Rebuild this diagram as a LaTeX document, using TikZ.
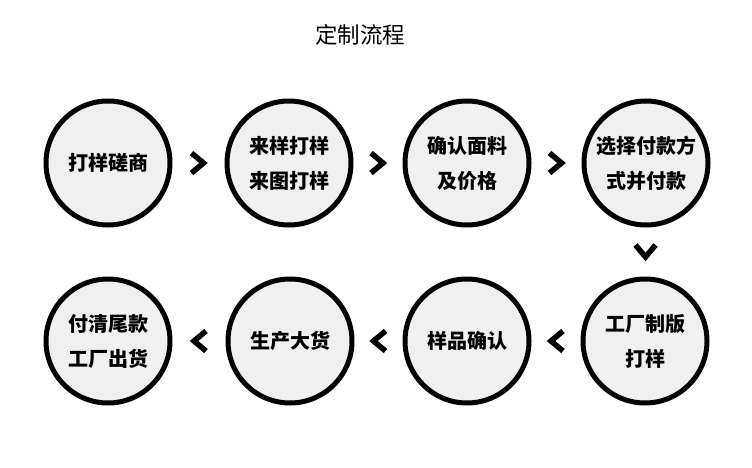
\documentclass[tikz,border=0pt]{standalone}
\usepackage{fontspec}
\usetikzlibrary{calc}
\newfontfamily\cjk{Noto Sans CJK SC}
\tikzset{
  stage/.style={circle, draw=black, line width=5pt, fill=black!6, minimum size=124pt, inner sep=0pt, align=center, font=\cjk\bfseries\fontsize{20}{35}\selectfont},
  chev/.style={line width=5.5pt, miter limit=10}
}

\begin{document}
\begin{tikzpicture}[x=1pt, y=1pt]
				\useasboundingbox (0,0) rectangle (752,467);
				\node[font=\cjk\fontsize{22.5}{26}\selectfont] (title) at (360,432) {定制流程};
				% first row
				\node[stage] (quote) at (108,304) {打样磋商};
				\node[stage] (sample) at (289,304) {来样打样\\来图打样};
				\node[stage] (confirm) at (467,304) {确认面料\\及价格};
				\node[stage] (payment) at (646,304) {选择付款方\\式并付款};
				% second row
				\node[stage] (proto) at (645,126) {工厂制版\\打样};
				\node[stage] (check) at (467,126) {样品确认};
				\node[stage] (produce) at (290,126) {生产大货};
				\node[stage] (deliver) at (108,126) {付清尾款\\工厂出货};
				% chevrons between the stages
				\coordinate (c1) at ($(quote)!0.5!(sample)$);
				\coordinate (c2) at ($(sample)!0.5!(confirm)$);
				\coordinate (c3) at ($(confirm)!0.5!(payment)$);
				\coordinate (c4) at ($(payment)!0.5!(proto)$);
				\coordinate (c5) at ($(proto)!0.5!(check)$);
				\coordinate (c6) at ($(check)!0.5!(produce)$);
				\coordinate (c7) at ($(produce)!0.5!(deliver)$);
				\foreach \c in {c1,c2,c3}
					\draw[chev] ([shift={(-7,10)}]\c) -- ([shift={(5,0)}]\c) -- ([shift={(-7,-10)}]\c);
				\draw[chev] ([shift={(-10,7)}]c4) -- ([shift={(0,-5)}]c4) -- ([shift={(10,7)}]c4);
				\foreach \c in {c5,c6,c7}
					\draw[chev] ([shift={(7,10)}]\c) -- ([shift={(-5,0)}]\c) -- ([shift={(7,-10)}]\c);
			\end{tikzpicture}
\end{document}
